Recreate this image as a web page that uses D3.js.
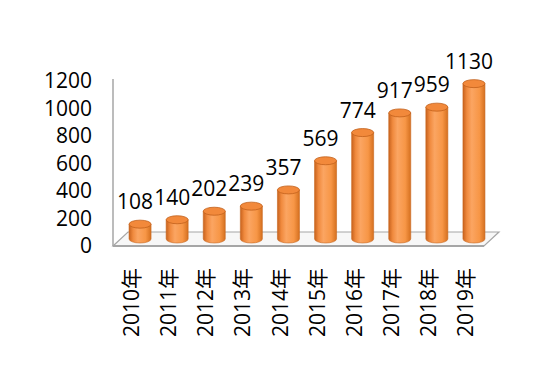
<!DOCTYPE html>
<html>
<head>
<meta charset="utf-8">
<script src="https://cdn.jsdelivr.net/npm/d3@7"></script>
<style>
  body { margin: 0; background: #fff; }
  text { font-family: "Open Sans", "Noto Sans CJK SC", sans-serif; fill: #000; }
</style>
</head>
<body>
<div id="chart-area"></div>
<script>
const years = ["2010年", "2011年", "2012年", "2013年", "2014年", "2015年", "2016年", "2017年", "2018年", "2019年"];
const values = [108, 140, 202, 239, 357, 569, 774, 917, 959, 1130];
const yTicks = [0, 200, 400, 600, 800, 1000, 1200];

const width = 550, height = 390;
// front plane of the 3d box
const plotLeft = 113, plotRight = 484, plotBottom = 246, plotTop = 81;
// depth offset of the floor (back edge relative to front edge)
const depthX = 15, depthY = -14;
// bars stand in the middle of the floor
const barDx = 8.5, barDy = -7;

const svg = d3.select("#chart-area")
  .append("svg")
    .attr("width", width)
    .attr("height", height);

const x = d3.scaleBand()
  .domain(years)
  .range([plotLeft, plotRight]);

const y = d3.scaleLinear()
  .domain([0, 1200])
  .range([plotBottom, plotTop]);

const defs = svg.append("defs");
const grad = defs.append("linearGradient")
  .attr("id", "cyl")
  .attr("x1", "0%").attr("x2", "100%")
  .attr("y1", "0%").attr("y2", "0%");
grad.append("stop").attr("offset", "0%").attr("stop-color", "#c8621d");
grad.append("stop").attr("offset", "18%").attr("stop-color", "#f08a3e");
grad.append("stop").attr("offset", "40%").attr("stop-color", "#fba562");
grad.append("stop").attr("offset", "75%").attr("stop-color", "#f79646");
grad.append("stop").attr("offset", "100%").attr("stop-color", "#d5701f");

// floor
svg.append("path")
  .attr("d", "M" + plotLeft + "," + plotBottom +
    "L" + (plotLeft + depthX) + "," + (plotBottom + depthY) +
    "L" + (plotRight + depthX) + "," + (plotBottom + depthY) +
    "L" + plotRight + "," + plotBottom + "Z")
  .attr("fill", "#f7f7f7")
  .attr("stroke", "#a6a6a6")
  .attr("stroke-width", 1.2);
svg.append("line")
  .attr("x1", plotLeft).attr("x2", plotRight)
  .attr("y1", plotBottom).attr("y2", plotBottom)
  .attr("stroke", "#a6a6a6")
  .attr("stroke-width", 2);

// y axis
const yAxisCall = d3.axisLeft(y)
  .tickValues(yTicks)
  .tickFormat(d3.format("d"))
  .tickSize(0)
  .tickPadding(21);
const yAxis = svg.append("g")
  .attr("class", "y axis")
  .attr("transform", "translate(" + plotLeft + ",0)")
  .call(yAxisCall);
yAxis.select(".domain")
  .attr("stroke", "#a6a6a6")
  .attr("stroke-width", 1.5)
  .attr("d", "M0," + (plotTop - 2) + "V" + plotBottom);
yAxis.selectAll("text")
  .attr("font-size", "21px")
  .attr("font-family", "'Open Sans', sans-serif")
  .attr("fill", "#000");

// x axis
const xAxisCall = d3.axisBottom(x).tickSize(0);
const xAxis = svg.append("g")
  .attr("class", "x axis")
  .attr("transform", "translate(0," + plotBottom + ")")
  .call(xAxisCall);
xAxis.select(".domain").remove();
xAxis.selectAll("text")
  .attr("font-size", "21px")
  .attr("font-family", "'Open Sans', 'Noto Sans CJK SC', sans-serif")
  .attr("fill", "#000")
  .attr("text-anchor", "end")
  .attr("transform", "rotate(-90)")
  .attr("x", -22)
  .attr("y", 0)
  .attr("dy", "0.36em");

// cylinders
const rx = 11, ry = 4;
const data = years.map((d, i) => ({ year: d, value: values[i] }));
const cx = d => x(d.year) + x.bandwidth() / 2 + barDx;
const base = y(0) + barDy;
const topY = d => y(d.value) + barDy;

const bars = svg.selectAll(".bar").data(data).enter()
  .append("g")
  .attr("class", "bar");

bars.append("path")
  .attr("d", d => {
    const c = cx(d), t = topY(d);
    return "M" + (c - rx) + "," + t +
      "L" + (c - rx) + "," + base +
      "A" + rx + "," + ry + " 0 0 0 " + (c + rx) + "," + base +
      "L" + (c + rx) + "," + t + "Z";
  })
  .attr("fill", "url(#cyl)")
  .attr("stroke", "#c8661f")
  .attr("stroke-width", 0.6);

bars.append("ellipse")
  .attr("cx", cx)
  .attr("cy", topY)
  .attr("rx", rx)
  .attr("ry", ry)
  .attr("fill", "#f2893b")
  .attr("stroke", "#c2611c")
  .attr("stroke-width", 0.8);

// value labels
svg.selectAll(".value").data(data).enter()
  .append("text")
  .attr("class", "value")
  .attr("x", d => cx(d) - 5)
  .attr("y", d => topY(d) - 15)
  .attr("text-anchor", "middle")
  .attr("font-size", "21px")
  .text(d => d.value);
</script>
</body>
</html>
